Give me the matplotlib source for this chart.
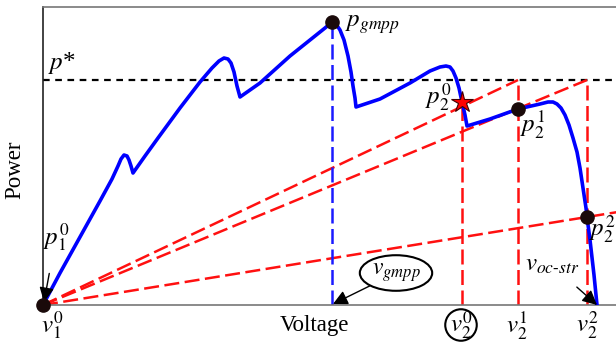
import numpy as np
import matplotlib.pyplot as plt

plt.rcParams['mathtext.fontset'] = 'stix'
plt.rcParams['font.family'] = 'Liberation Serif'

# P-V curve of the partially shaded string (arbitrary units)
curve_v = [0, 17, 37, 57, 69, 75, 78, 81, 84, 86, 88, 90, 102, 115, 137, 157, 169, 176,
           181, 185, 188, 191, 194, 197, 217, 247, 272, 282, 289, 293, 297, 301, 305,
           308, 310, 312, 313, 337, 367, 387, 397, 403, 407, 410, 413, 416, 419, 422,
           424, 447, 475, 497, 505, 510, 514, 518, 522, 526, 530, 534, 537, 540, 543,
           544, 547, 551, 554]
curve_p = [0, 32, 68, 104, 126, 139, 146, 150, 149, 145, 139, 132, 149, 167, 197, 223, 237,
           244, 247, 246, 242, 233, 219, 208, 222, 249, 269, 277, 283, 281, 275, 265, 249,
           233, 219, 207, 198, 206, 222, 234, 238, 239, 238, 234, 227, 217, 203, 190,
           179, 186, 196, 201, 203, 203, 201, 197, 190, 180, 167, 153, 137, 117, 97,
           88, 65, 30, 0]

v_gmpp, p_gmpp = 289, 283
p_star = 225
v_oc = 554
# operating points of the search: v2^0, v2^1, v2^2 and the powers measured there
v2 = [419, 475, 544]
p2 = [203, 196, 88]

fig = plt.figure(figsize=(6.16, 3.43), dpi=100)
ax = fig.add_axes([43 / 616, 38 / 343, 573 / 616, 298 / 343])
ax.set_xlim(0, 573)
ax.set_ylim(0, 298)
ax.set_xticks([])
ax.set_yticks([])
ax.spines['right'].set_visible(False)
ax.spines['left'].set_color('#222222')
ax.spines['bottom'].set_color('#777777')
ax.spines['top'].set_color('#777777')
for s in ['left', 'bottom', 'top']:
    ax.spines[s].set_linewidth(1.2)

red = dict(color='#ff1010', lw=1.8, dashes=(6, 2.2))

# p* threshold
ax.plot([0, 600], [p_star, p_star], color='k', lw=1.6, dashes=(3, 2.5), clip_on=False)

# search lines from the origin
ax.plot([0, v2[1]], [0, p_star], **red)
ax.plot([0, v2[2]], [0, p_star], **red)
ax.plot([0, 600], [0, p2[2] * 600 / v2[2]], **red)
ax.plot([v2[0], v2[0]], [0, p2[0]], **red)
ax.plot([v2[1], v2[1]], [0, p_star], **red)
ax.plot([v2[2], v2[2]], [0, p_star], **red)

ax.plot([v_gmpp, v_gmpp], [0, p_gmpp], color='#1a1aff', lw=1.8, dashes=(6, 2.2))

ax.plot(curve_v, curve_p, color='#0000ff', lw=2.6, solid_joinstyle='round',
        solid_capstyle='round', zorder=3)

dot = dict(marker='o', ms=9.5, color='#1a0a0a', zorder=5, clip_on=False)
ax.plot([0], [0], **dot)
ax.plot([v_gmpp], [p_gmpp], **dot)
ax.plot([v2[1]], [p2[1]], **dot)
ax.plot([v2[2]], [p2[2]], **dot)
ax.plot([v2[0]], [p2[0]], marker='*', ms=16, mfc='#ff0000', mec='#400000', mew=0.8,
        zorder=6)

fs = 18
lab = dict(fontsize=fs, clip_on=False, ha='center', va='center')
ax.text(5, 242, r'$p$*', fontsize=fs, ha='left', va='center')
ax.text(302, 280, r'$p_{gmpp}$', fontsize=fs, ha='left', va='center')
ax.text(395, 208, r'$p_2^0$', **lab)
ax.text(489, 181, r'$p_2^1$', **lab)
ax.text(559, 76, r'$p_2^2$', **lab)
ax.text(9, -20, r'$v_1^0$', **lab)
ax.text(474, -20, r'$v_2^1$', **lab)
ax.text(544, -20, r'$v_2^2$', **lab)
ax.text(418, -20, r'$v_2^0$', bbox=dict(boxstyle='circle,pad=0.0', fc='white',
                                         ec='k', lw=1.5), **lab)

arrow = dict(arrowstyle='-|>', color='k', lw=1.0, mutation_scale=22, shrinkA=0, shrinkB=0)
ax.annotate(r'$p_1^0$', xy=(1, 3), xytext=(13, 68), fontsize=fs, ha='center',
            va='center', arrowprops=dict(arrow, shrinkA=13))
ax.annotate(r'$v_{gmpp}$', xy=(v_gmpp + 1, 1), xytext=(353, 32), fontsize=fs - 1,
            ha='center', va='center',
            bbox=dict(boxstyle='ellipse,pad=0.05', fc='white', ec='k', lw=1.5),
            arrowprops=arrow)
ax.annotate('$v_{oc\u2010str}$', xy=(v_oc, 0), xytext=(509, 40), fontsize=fs,
            ha='center', va='center', arrowprops=dict(arrow, shrinkA=9))

ax.text(271, -20, 'Voltage', fontsize=16.5, ha='center', va='center')
ax.text(-28, 135, 'Power', fontsize=16.5, ha='center', va='center', rotation=90)

fig.savefig('out.png', dpi=100)
